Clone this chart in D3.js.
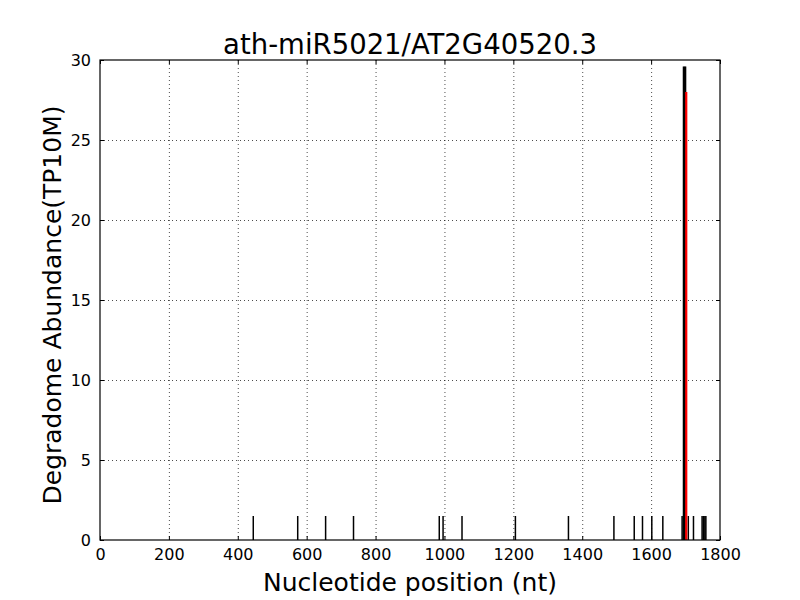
<!DOCTYPE html>
<html>
<head>
<meta charset="utf-8">
<script src="https://cdn.jsdelivr.net/npm/d3@7"></script>
<style>
  body { margin: 0; background: #fff; }
  text { font-family: "DejaVu Sans", sans-serif; }
</style>
</head>
<body>
<svg></svg>
<script>
// degradome reads (black lines)
var positions = [445, 574, 655, 736, 985, 996, 1051, 1206, 1360, 1492, 1551, 1575, 1602, 1634,
                 1690, 1694, 1697, 1700, 1708, 1723, 1748, 1752, 1756, 1759];
var abundance = [1.5, 1.5, 1.5, 1.5, 1.5, 1.5, 1.5, 1.5, 1.5, 1.5, 1.5, 1.5, 1.5, 1.5,
                 1.5, 29.6, 29.6, 29.6, 1.5, 1.5, 1.5, 1.5, 1.5, 1.5];
// predicted cleavage site (red line)
var sitePos = [1702];
var siteVal = [28];

var xTicks = [0, 200, 400, 600, 800, 1000, 1200, 1400, 1600, 1800];
var yTicks = [0, 5, 10, 15, 20, 25, 30];

var width = 800, height = 600;
var mLeft = 100, mRight = 720, mTop = 60, mBottom = 540;

var svg = d3.select('svg')
    .attr('width', width)
    .attr('height', height);

var x = d3.scaleLinear().domain([0, 1800]).range([mLeft, mRight]);
var y = d3.scaleLinear().domain([0, 30]).range([mBottom, mTop]);

// grid
svg.append('g')
  .selectAll('line')
  .data(xTicks.slice(1, -1))
  .enter().append('line')
    .attr('x1', d => x(d) + 0.5).attr('x2', d => x(d) + 0.5)
    .attr('y1', mTop).attr('y2', mBottom)
    .attr('stroke', '#000').attr('stroke-width', 0.7)
    .attr('stroke-dasharray', '1,3');

svg.append('g')
  .selectAll('line')
  .data(yTicks.slice(1, -1))
  .enter().append('line')
    .attr('y1', d => y(d) + 0.5).attr('y2', d => y(d) + 0.5)
    .attr('x1', mLeft).attr('x2', mRight)
    .attr('stroke', '#000').attr('stroke-width', 0.7)
    .attr('stroke-dasharray', '1,3');

// reads
svg.append('g')
  .selectAll('line')
  .data(positions)
  .enter().append('line')
    .attr('x1', d => x(d)).attr('x2', d => x(d))
    .attr('y1', y(0)).attr('y2', (d, i) => y(abundance[i]))
    .attr('stroke', '#000').attr('stroke-width', 1.5);

svg.append('g')
  .selectAll('line')
  .data(sitePos)
  .enter().append('line')
    .attr('x1', d => x(d)).attr('x2', d => x(d))
    .attr('y1', y(0)).attr('y2', (d, i) => y(siteVal[i]))
    .attr('stroke', '#ff0000').attr('stroke-width', 2.2);

// axes (ticks inside, all four sides)
var fmt = d3.format('d');

svg.append('g')
  .attr('transform', `translate(0, ${mBottom})`)
  .call(d3.axisBottom(x).tickValues(xTicks).tickFormat(fmt).tickSizeInner(-4).tickSizeOuter(0).tickPadding(9))
  .call(g => g.select('.domain').remove())
  .selectAll('text').style('font-size', '16px').attr('fill', '#000');

svg.append('g')
  .attr('transform', `translate(0, ${mTop})`)
  .call(d3.axisTop(x).tickValues(xTicks).tickSizeInner(-4).tickSizeOuter(0).tickFormat(''))
  .call(g => g.select('.domain').remove());

svg.append('g')
  .attr('transform', `translate(${mLeft}, 0)`)
  .call(d3.axisLeft(y).tickValues(yTicks).tickFormat(fmt).tickSizeInner(-4).tickSizeOuter(0).tickPadding(9))
  .call(g => g.select('.domain').remove())
  .selectAll('text').style('font-size', '16px').attr('fill', '#000');

svg.append('g')
  .attr('transform', `translate(${mRight}, 0)`)
  .call(d3.axisRight(y).tickValues(yTicks).tickSizeInner(-4).tickSizeOuter(0).tickFormat(''))
  .call(g => g.select('.domain').remove());

svg.selectAll('.tick line').attr('stroke', '#000');

// frame
svg.append('rect')
  .attr('x', mLeft).attr('y', mTop)
  .attr('width', mRight - mLeft).attr('height', mBottom - mTop)
  .attr('fill', 'none').attr('stroke', '#000').attr('stroke-width', 1.2);

// title
svg.append('text')
  .attr('x', (mLeft + mRight) / 2)
  .attr('y', 54)
  .style('text-anchor', 'middle')
  .style('font-size', '27.5px')
  .text('ath-miR5021/AT2G40520.3');

// x label
svg.append('text')
  .attr('x', (mLeft + mRight) / 2)
  .attr('y', 591)
  .style('text-anchor', 'middle')
  .style('font-size', '25px')
  .text('Nucleotide position (nt)');

// y label
svg.append('text')
  .attr('transform', 'rotate(-90)')
  .attr('x', -305)
  .attr('y', 61)
  .style('text-anchor', 'middle')
  .style('font-size', '25px')
  .text('Degradome Abundance(TP10M)');
</script>
</body>
</html>
